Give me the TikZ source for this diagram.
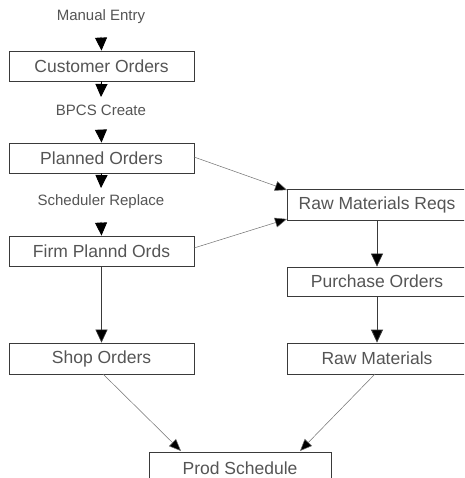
\documentclass[tikz,border=0pt]{standalone}
\usepackage{fontspec}
\setmainfont{Liberation Sans}
\usetikzlibrary{arrows.meta}
\definecolor{txt}{HTML}{555555}
\definecolor{edge}{HTML}{3A3A3A}
\definecolor{thin}{HTML}{707070}
\tikzset{
  box/.style={draw=edge, line width=0.8pt, rectangle, inner sep=0pt, text=txt,
    font=\fontsize{17.5}{20}\selectfont},
  lbl/.style={inner sep=0pt, text=txt, font=\fontsize{15}{18}\selectfont},
  arr/.style={draw=black, line width=0.9pt, -{Triangle[length=13pt,width=12pt]}},
  varr/.style={draw=edge, line width=0.6pt, -{Triangle[length=13pt,width=12pt,fill=black]}},
  darr/.style={draw=thin, line width=0.5pt, -{Triangle[length=12pt,width=10pt,fill=black]}}
}
\begin{document}
\begin{tikzpicture}[x=1pt,y=-1pt]
\clip (0,0) rectangle (464,478);
\fill[white] (0,0) rectangle (464,478);
% left column
\node[lbl] (me) at (101,17) {Manual Entry};
\node[box, minimum width=185pt, minimum height=30pt] (co) at (101.5,66) {Customer Orders};
\node[lbl] (bc) at (101,110) {BPCS Create};
\node[box, minimum width=185pt, minimum height=30pt] (pl) at (101.5,158) {Planned Orders};
\node[lbl] (sr) at (101,202) {Scheduler Replace};
\node[box, minimum width=185pt, minimum height=30pt] (fp) at (101.5,251) {Firm Plannd Ords};
\node[box, minimum width=185pt, minimum height=31pt] (so) at (101.5,358.5) {Shop Orders};
% right column
\node[box, minimum width=180pt, minimum height=31pt] (rmr) at (377,204.5) {Raw Materials Reqs};
\node[box, minimum width=180pt, minimum height=29pt] (pu) at (377,281.5) {Purchase Orders};
\node[box, minimum width=180pt, minimum height=31pt] (rm) at (377,358.5) {Raw Materials};
% bottom
\node[box, minimum width=182pt, minimum height=32pt] (ps) at (240,468) {Prod Schedule};
% coordinates for short arrows
\coordinate (a1) at (101,37);
\coordinate (a2) at (101,97);
\coordinate (a3) at (101,131);
\coordinate (a4) at (101,188);
\coordinate (a5) at (101,222);
\coordinate (pl1) at (194,157);
\coordinate (fp1) at (194,248);
\coordinate (rmr1) at (287,190);
\coordinate (rmr2) at (287,219);
\coordinate (so1) at (103,374);
\coordinate (rm1) at (375,374);
\coordinate (ps1) at (181,451);
\coordinate (ps2) at (300,451);
% connectors
\draw[arr] (a1) -- (co.north);
\draw[arr] (co.south) -- (a2);
\draw[arr] (a3) -- (pl.north);
\draw[arr] (pl.south) -- (a4);
\draw[arr] (a5) -- (fp.north);
\draw[darr] (pl1) -- (rmr1);
\draw[darr] (fp1) -- (rmr2);
\draw[varr] (fp.south -| so.north) -- (so.north);
\draw[varr] (rmr.south) -- (pu.north);
\draw[varr, line width=0.8pt] (pu.south) -- (rm.north);
\draw[darr] (so1) -- (ps1);
\draw[darr] (rm1) -- (ps2);
\end{tikzpicture}
\end{document}
